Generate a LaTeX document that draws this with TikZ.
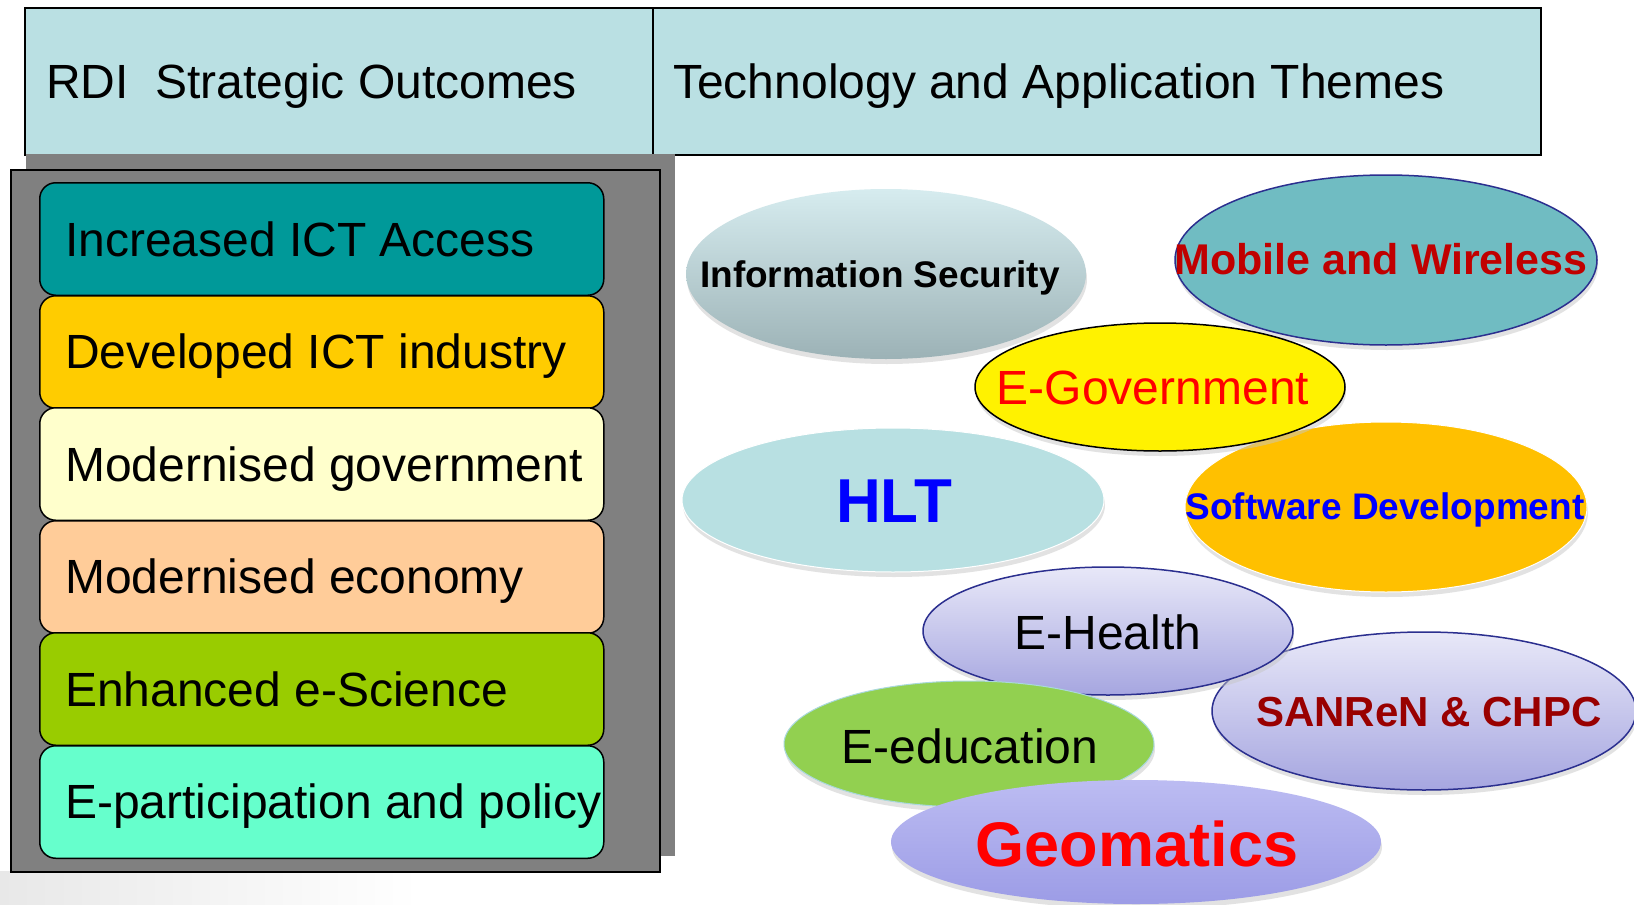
\documentclass[tikz,border=0pt]{standalone}
\usepackage{fontspec}
\setmainfont{Liberation Sans}
\usetikzlibrary{shapes.geometric,shadows}
\definecolor{hdrfill}{HTML}{BAE0E3}
\definecolor{panelgray}{HTML}{808080}
\definecolor{cTeal}{HTML}{009999}
\definecolor{cGold}{HTML}{FFCC00}
\definecolor{cCream}{HTML}{FFFFCC}
\definecolor{cPeach}{HTML}{FFCC99}
\definecolor{cLime}{HTML}{99CC00}
\definecolor{cAqua}{HTML}{66FFCC}
\definecolor{isTop}{HTML}{D6ECEF}
\definecolor{isBot}{HTML}{9CB2B6}
\definecolor{mobFill}{HTML}{70BCC2}
\definecolor{navyEdge}{HTML}{2B2F8F}
\definecolor{hltFill}{HTML}{B8E0E2}
\definecolor{swFill}{HTML}{FFC000}
\definecolor{lavTop}{HTML}{E8E8F8}
\definecolor{lavBot}{HTML}{A6A6E0}
\definecolor{geoTop}{HTML}{BCBCF2}
\definecolor{geoBot}{HTML}{9C9CE6}
\definecolor{eduFill}{HTML}{92D050}
\definecolor{eduEdge}{HTML}{A9D8DC}
\definecolor{darkRed}{HTML}{C00000}
\definecolor{maroon}{HTML}{990000}
\begin{document}
\begin{tikzpicture}[x=1pt,y=-1pt,
  hdrcell/.style={draw=black, line width=1.6pt, fill=hdrfill, anchor=north west, inner sep=0pt},
  outbox/.style={draw=black, line width=1.5pt, rounded corners=16pt, anchor=north west,
    minimum width=564pt, minimum height=112.5pt, inner sep=0pt},
  outtxt/.style={anchor=base west, inner sep=0pt, font=\fontsize{48}{50}\selectfont},
  hdrtxt/.style={anchor=base west, inner sep=0pt, font=\fontsize{48}{50}\selectfont},
  ell/.style={ellipse, inner sep=0pt,
    drop shadow={shadow xshift=1pt, shadow yshift=-5pt, fill=gray!45}},
  lbl/.style={anchor=base, inner sep=0pt}
]
\useasboundingbox (0,0) rectangle (1634,905);
\fill[white] (0,0) rectangle (1634,905);
\shade[left color=gray!18, right color=white] (0,871) rectangle (420,905);

% header
\node[hdrcell, minimum width=628pt, minimum height=147pt] (hleft) at (24,7) {};
\node[hdrcell, minimum width=888pt, minimum height=147pt] (hright) at (652,7) {};
\node[hdrtxt] (hlt1) at (46,98) {RDI\ \ Strategic Outcomes};
\node[hdrtxt] (hlt2) at (673,98) {Technology and Application Themes};

% left panel
\node[fill=panelgray, anchor=north west, minimum width=649pt, minimum height=702pt, inner sep=0pt] (pshadow) at (26,154) {};
\node[fill=panelgray, draw=black, line width=1.5pt, anchor=north west, minimum width=649pt, minimum height=702pt, inner sep=0pt] (panel) at (10,169) {};

\node[outbox, fill=cTeal]  (b1) at (39,182) {};
\node[outbox, fill=cGold]  (b2) at (39,295) {};
\node[outbox, fill=cCream] (b3) at (39,407) {};
\node[outbox, fill=cPeach] (b4) at (39,520) {};
\node[outbox, fill=cLime]  (b5) at (39,632) {};
\node[outbox, fill=cAqua]  (b6) at (39,745) {};
\node[outtxt] (t1) at (65,256) {Increased ICT Access};
\node[outtxt] (t2) at (65,368) {Developed ICT industry};
\node[outtxt] (t3) at (65,481) {Modernised government};
\node[outtxt] (t4) at (65,593) {Modernised economy};
\node[outtxt] (t5) at (65,706) {Enhanced e-Science};
\node[outtxt] (t6) at (65,818) {E-participation and policy};

% ellipses
\node[ell, minimum width=400pt, minimum height=170pt, top color=isTop, bottom color=isBot] (infosec) at (886,274) {};
\node[ell, minimum width=422pt, minimum height=170pt, fill=mobFill, draw=navyEdge, line width=1.5pt] (mobile) at (1386,260) {};
\node[ell, minimum width=402pt, minimum height=170pt, fill=swFill, draw=white, line width=1pt] (software) at (1386,507) {};
\node[ell, minimum width=370pt, minimum height=128pt, fill=yellow, draw=black, line width=1.5pt] (egov) at (1160,387) {};
\node[ell, minimum width=422pt, minimum height=144pt, fill=hltFill, draw=white, line width=1pt] (hlt) at (893,500) {};
\node[ell, minimum width=424pt, minimum height=158pt, top color=lavTop, bottom color=lavBot, draw=navyEdge, line width=1.5pt] (sanren) at (1424,711) {};
\node[ell, minimum width=370pt, minimum height=128pt, top color=lavTop, bottom color=lavBot, draw=navyEdge, line width=1.5pt] (ehealth) at (1108,631) {};
\node[ell, minimum width=370pt, minimum height=126pt, fill=eduFill, draw=eduEdge, line width=1pt] (eedu) at (969,744) {};
\node[ell, minimum width=490pt, minimum height=124pt, top color=geoTop, bottom color=geoBot] (geo) at (1136,842) {};

\node[lbl, font=\fontsize{37}{40}\selectfont\bfseries] (linfosec) at (880,287) {Information Security};
\node[lbl, font=\fontsize{43}{46}\selectfont\bfseries, text=darkRed] (lmobile) at (1381,274) {Mobile and Wireless};
\node[lbl, font=\fontsize{48}{50}\selectfont, text=red] (legov) at (1153,404) {E-Government};
\node[lbl, font=\fontsize{62}{64}\selectfont\bfseries, text=blue] (lhlt) at (894,522) {HLT};
\node[lbl, font=\fontsize{37}{40}\selectfont\bfseries, text=blue] (lsoftware) at (1385,519) {Software Development};
\node[lbl, font=\fontsize{48}{50}\selectfont] (lehealth) at (1108,649) {E-Health};
\node[lbl, font=\fontsize{42}{45}\selectfont\bfseries, text=maroon] (lsanren) at (1429,726) {SANReN \& CHPC};
\node[lbl, font=\fontsize{48}{50}\selectfont] (leedu) at (970,763) {E-education};
\node[lbl, font=\fontsize{63}{66}\selectfont\bfseries, text=red] (lgeo) at (1137,866) {Geomatics};
\end{tikzpicture}
\end{document}
